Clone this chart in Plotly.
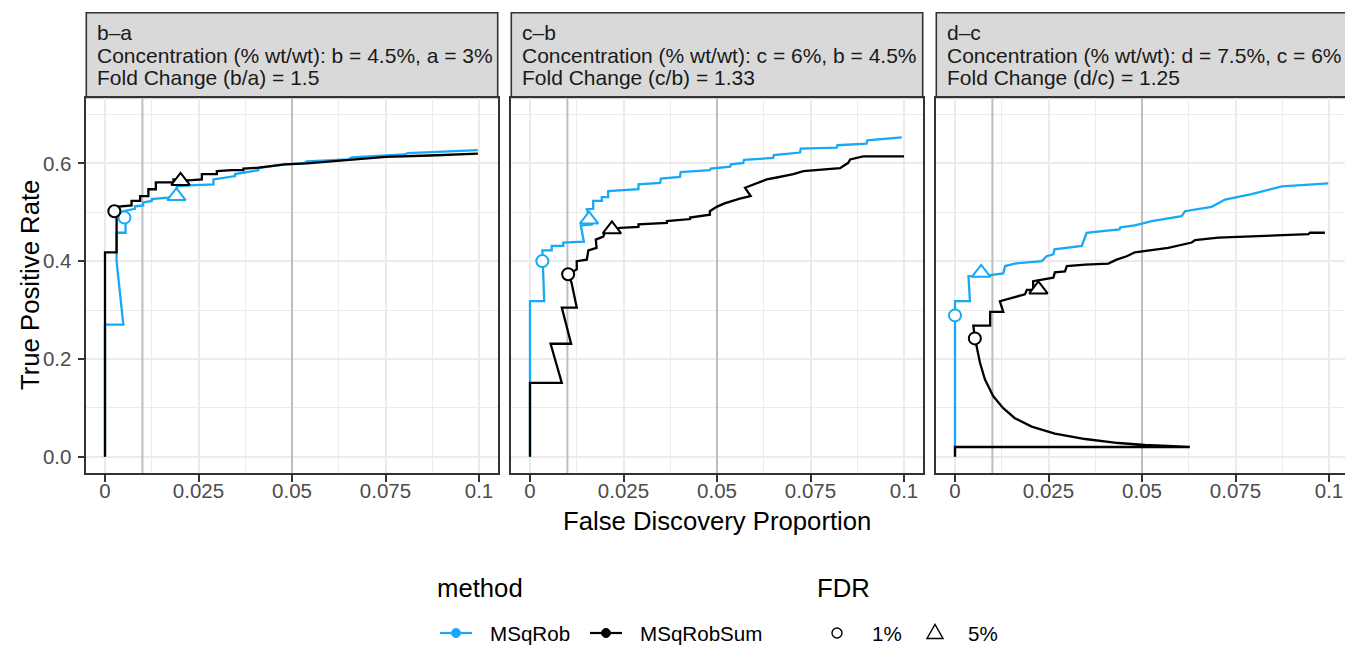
import plotly.graph_objects as go

# ---------------- data ----------------
PANEL_IDS = ["b–a", "c–b", "d–c"]
PANEL_CONC = [
    "Concentration (% wt/wt): b = 4.5%, a = 3%",
    "Concentration (% wt/wt): c = 6%, b = 4.5%",
    "Concentration (% wt/wt): d = 7.5%, c = 6%",
]
PANEL_FOLD = [
    "Fold Change (b/a) = 1.5",
    "Fold Change (c/b) = 1.33",
    "Fold Change (d/c) = 1.25",
]
METHODS = ["MSqRob", "MSqRobSum"]
FDR_LABELS = ["1%", "5%"]
FDR_LEVELS = [0.01, 0.05]

X_TICKS = [0, 0.025, 0.05, 0.075, 0.1]
X_TICK_TEXT = ["0", "0.025", "0.05", "0.075", "0.1"]
X_MINOR = [0.0125, 0.0375, 0.0625, 0.0875]
Y_TICKS = [0, 0.2, 0.4, 0.6]
Y_TICK_TEXT = ["0.0", "0.2", "0.4", "0.6"]
Y_MINOR = [0.1, 0.3, 0.5, 0.7]

# panel b-a
BA_MSQROB_FDP = [0, 0, 0.0049, 0.0031, 0.0031, 0.0055, 0.0055, 0.0049, 0.0080, 0.0080, 0.0102, 0.0102,
                 0.0125, 0.0125, 0.0169, 0.0192, 0.0192, 0.0223, 0.0290, 0.0290, 0.0348, 0.0348, 0.0410,
                 0.0410, 0.0481, 0.0530, 0.0540, 0.0602, 0.0650, 0.0660, 0.0751, 0.0800, 0.0810, 0.0869,
                 0.0940, 0.0997]
BA_MSQROB_TPR = [0, 0.270, 0.270, 0.400, 0.458, 0.458, 0.489, 0.502, 0.507, 0.512, 0.514, 0.520,
                 0.523, 0.527, 0.530, 0.533, 0.553, 0.555, 0.557, 0.567, 0.574, 0.578, 0.586,
                 0.590, 0.598, 0.600, 0.604, 0.606, 0.608, 0.612, 0.616, 0.618, 0.621, 0.623,
                 0.625, 0.627]
BA_SUM_FDP = [0, 0, 0.0031, 0.0031, 0.0071, 0.0071, 0.0094, 0.0094, 0.0116, 0.0116, 0.0136, 0.0136,
              0.0183, 0.0183, 0.0223, 0.0259, 0.0259, 0.0299, 0.0299, 0.0339, 0.0370, 0.0370, 0.0410,
              0.0481, 0.0540, 0.0602, 0.0680, 0.0751, 0.0869, 0.0997]
BA_SUM_TPR = [0, 0.418, 0.418, 0.511, 0.514, 0.523, 0.523, 0.533, 0.533, 0.547, 0.547, 0.561,
              0.561, 0.567, 0.565, 0.567, 0.578, 0.578, 0.584, 0.586, 0.586, 0.589, 0.591,
              0.598, 0.600, 0.604, 0.608, 0.613, 0.616, 0.620]
BA_MSQROB_MARK_FDP = [0.0052, 0.0191]
BA_MSQROB_MARK_TPR = [0.489, 0.533]
BA_SUM_MARK_FDP = [0.0025, 0.0202]
BA_SUM_MARK_TPR = [0.502, 0.564]

# panel c-b
CB_MSQROB_FDP = [0, 0, 0.0038, 0.0033, 0.0033, 0.0058, 0.0058, 0.0089, 0.0089, 0.0144, 0.0136, 0.0165,
                 0.0152, 0.0169, 0.0169, 0.0192, 0.0192, 0.0209, 0.0209, 0.0290, 0.0290, 0.0348, 0.0350,
                 0.0401, 0.0403, 0.0481, 0.0483, 0.0535, 0.0537, 0.0570, 0.0572, 0.0650, 0.0652, 0.0722,
                 0.0724, 0.0820, 0.0822, 0.0900, 0.0902, 0.0994]
CB_MSQROB_TPR = [0, 0.318, 0.318, 0.400, 0.422, 0.422, 0.431, 0.431, 0.438, 0.440, 0.473, 0.475,
                 0.506, 0.507, 0.523, 0.523, 0.531, 0.531, 0.543, 0.547, 0.557, 0.560, 0.569,
                 0.572, 0.582, 0.586, 0.589, 0.593, 0.598, 0.601, 0.607, 0.611, 0.617, 0.622,
                 0.630, 0.632, 0.637, 0.640, 0.647, 0.653]
CB_SUM_FDP = [0, 0, 0.0085, 0.0055, 0.0110, 0.0085, 0.0125, 0.0111, 0.0102, 0.0125, 0.0125, 0.0152,
              0.0156, 0.0178, 0.0176, 0.0196, 0.0201, 0.0241, 0.0290, 0.0290, 0.0366, 0.0366, 0.0428,
              0.0428, 0.0481, 0.0481, 0.0499, 0.0520, 0.0561, 0.0590, 0.0575, 0.0610, 0.0633, 0.0660,
              0.0704, 0.0731, 0.0829, 0.0851, 0.0856, 0.0891, 0.1000]
CB_SUM_TPR = [0, 0.151, 0.151, 0.231, 0.231, 0.305, 0.305, 0.356, 0.373, 0.383, 0.400, 0.403,
              0.422, 0.427, 0.444, 0.450, 0.461, 0.468, 0.470, 0.475, 0.478, 0.482, 0.486,
              0.489, 0.495, 0.502, 0.511, 0.518, 0.528, 0.533, 0.550, 0.561, 0.567, 0.571,
              0.578, 0.584, 0.590, 0.601, 0.608, 0.614, 0.614]
CB_MSQROB_MARK_FDP = [0.0033, 0.0158]
CB_MSQROB_MARK_TPR = [0.400, 0.485]
CB_SUM_MARK_FDP = [0.0102, 0.0219]
CB_SUM_MARK_TPR = [0.373, 0.465]

# panel d-c
DC_MSQROB_FDP = [0, 0, 0.0040, 0.0036, 0.0089, 0.0129, 0.0134, 0.0160, 0.0232, 0.0245, 0.0263, 0.0266,
                 0.0339, 0.0348, 0.0352, 0.0401, 0.0440, 0.0442, 0.0481, 0.0526, 0.0606, 0.0615, 0.0686,
                 0.0722, 0.0793, 0.0874, 0.0998]
DC_MSQROB_TPR = [0, 0.318, 0.318, 0.369, 0.371, 0.375, 0.390, 0.395, 0.400, 0.410, 0.414, 0.424,
                 0.431, 0.448, 0.458, 0.462, 0.465, 0.469, 0.473, 0.482, 0.492, 0.502, 0.511,
                 0.526, 0.537, 0.553, 0.559]
DC_SUM_FDP = [0, 0, 0.0628, 0.0508, 0.0437, 0.0348, 0.0267, 0.0205, 0.0160, 0.0129, 0.01024, 0.00802,
              0.00668, 0.0058, 0.00535, 0.0049, 0.0094, 0.0094, 0.0129, 0.0120, 0.0160, 0.0187, 0.0192,
              0.0209, 0.0209, 0.0263, 0.0267, 0.0294, 0.0299, 0.0348, 0.0410, 0.0432, 0.0459, 0.0481,
              0.0570, 0.0633, 0.0642, 0.0704, 0.0811, 0.0945, 0.0949, 0.0989]
DC_SUM_TPR = [0, 0.0199, 0.0199, 0.0240, 0.0280, 0.0362, 0.0471, 0.0616, 0.0788, 0.0993, 0.1235, 0.158,
              0.192, 0.226, 0.2417, 0.268, 0.268, 0.296, 0.296, 0.318, 0.327, 0.332, 0.341,
              0.341, 0.359, 0.366, 0.377, 0.379, 0.390, 0.393, 0.395, 0.403, 0.410, 0.418,
              0.427, 0.438, 0.443, 0.448, 0.451, 0.455, 0.458, 0.458]
DC_MSQROB_MARK_FDP = [0.0, 0.0070]
DC_MSQROB_MARK_TPR = [0.289, 0.376]
DC_SUM_MARK_FDP = [0.0053, 0.0223]
DC_SUM_MARK_TPR = [0.242, 0.342]

# ---------------- style / layout ----------------
W, H = 1345, 645
FONT = "Liberation Sans, Arial, Helvetica, sans-serif"
COLORS = {"MSqRob": "#16A9F5", "MSqRobSum": "#000000"}
SYMBOLS = ["circle", "triangle-up"]
SIZES = [12, 16]

PANEL_L = [86.3, 511.3, 936.3]
PANEL_R = [497.7, 922.7, 1345.0]
PX_PER_UNIT = 3740.0
PLOT_TOP, PLOT_BOT = 97.5, 473.0
STRIP_TOP = 12.7
Y_RANGE = [-0.0333, 0.7346]
STRIP_BOTTOMS = [46.0, 69.5, 91.5]   # text box bottoms in px


def fx(px):
    return px / W


def fy(py):
    return 1 - py / H


panel_series = [
    ((BA_MSQROB_FDP, BA_MSQROB_TPR), (BA_SUM_FDP, BA_SUM_TPR),
     (BA_MSQROB_MARK_FDP, BA_MSQROB_MARK_TPR), (BA_SUM_MARK_FDP, BA_SUM_MARK_TPR)),
    ((CB_MSQROB_FDP, CB_MSQROB_TPR), (CB_SUM_FDP, CB_SUM_TPR),
     (CB_MSQROB_MARK_FDP, CB_MSQROB_MARK_TPR), (CB_SUM_MARK_FDP, CB_SUM_MARK_TPR)),
    ((DC_MSQROB_FDP, DC_MSQROB_TPR), (DC_SUM_FDP, DC_SUM_TPR),
     (DC_MSQROB_MARK_FDP, DC_MSQROB_MARK_TPR), (DC_SUM_MARK_FDP, DC_SUM_MARK_TPR)),
]

fig = go.Figure()
shapes = []
annotations = []

for i in range(3):
    xa = "x" if i == 0 else f"x{i+1}"
    ya = "y" if i == 0 else f"y{i+1}"
    lines = panel_series[i][:2]
    marks = panel_series[i][2:]
    for lvl in FDR_LEVELS:
        fig.add_trace(go.Scatter(x=[lvl, lvl], y=[-1, 2], mode="lines",
                                 line=dict(color="#BEBEBE", width=2),
                                 xaxis=xa, yaxis=ya, showlegend=False, hoverinfo="skip"))
    for m, (fd, tp) in zip(METHODS, lines):
        fig.add_trace(go.Scatter(x=fd, y=tp, mode="lines", name=m,
                                 line=dict(color=COLORS[m], width=2.3),
                                 xaxis=xa, yaxis=ya, showlegend=False))
    for m, (fd, tp) in zip(METHODS, marks):
        fig.add_trace(go.Scatter(x=fd, y=tp, mode="markers", name=m,
                                 marker=dict(symbol=SYMBOLS, size=SIZES, color="white", opacity=1,
                                             line=dict(color=COLORS[m], width=2)),
                                 xaxis=xa, yaxis=ya, showlegend=False))

    x0 = -0.005
    x1 = x0 + (PANEL_R[i] - PANEL_L[i]) / PX_PER_UNIT
    common = dict(showline=True, linecolor="#333333", linewidth=1.6, mirror=True,
                  showgrid=True, gridcolor="#EBEBEB", gridwidth=2.2, zeroline=False,
                  tickfont=dict(family=FONT, size=20.5, color="#4D4D4D"),
                  fixedrange=True)
    xaxis = dict(domain=[fx(PANEL_L[i]), fx(PANEL_R[i])], range=[x0, x1], anchor=ya,
                 tickmode="array", tickvals=X_TICKS, ticktext=X_TICK_TEXT,
                 ticks="outside", ticklen=7, tickwidth=1.6, tickcolor="#333333",
                 ticklabelstandoff=-8,
                 minor=dict(tickmode="array", tickvals=X_MINOR, showgrid=True,
                            gridcolor="#EBEBEB", gridwidth=1.1, ticks=""),
                 **common)
    yaxis = dict(domain=[fy(PLOT_BOT), fy(PLOT_TOP)], range=Y_RANGE, anchor=xa,
                 tickmode="array", tickvals=Y_TICKS, ticktext=Y_TICK_TEXT,
                 minor=dict(tickmode="array", tickvals=Y_MINOR, showgrid=True,
                            gridcolor="#EBEBEB", gridwidth=1.1, ticks=""),
                 **common)
    if i == 0:
        yaxis.update(ticks="outside", ticklen=7, tickwidth=1.6, tickcolor="#333333",
                     ticklabelstandoff=2)
    else:
        yaxis.update(ticks="", showticklabels=False)
    fig.layout[("xaxis" if i == 0 else f"xaxis{i+1}")] = xaxis
    fig.layout[("yaxis" if i == 0 else f"yaxis{i+1}")] = yaxis

    # strip
    shapes.append(dict(type="rect", xref="paper", yref="paper",
                       x0=fx(PANEL_L[i]), x1=fx(PANEL_R[i] + (3 if i == 2 else 0)),
                       y0=fy(PLOT_TOP), y1=fy(STRIP_TOP),
                       fillcolor="#D9D9D9", line=dict(color="#333333", width=1.6), layer="below"))
    for txt, yb in zip([PANEL_IDS[i], PANEL_CONC[i], PANEL_FOLD[i]], STRIP_BOTTOMS):
        annotations.append(dict(text=txt, xref="paper", yref="paper",
                                x=fx(PANEL_L[i] + 9), y=fy(yb), xanchor="left", yanchor="bottom",
                                showarrow=False, font=dict(family=FONT, size=21, color="#1A1A1A")))

# axis titles
annotations.append(dict(text="True Positive Rate", xref="paper", yref="paper",
                        x=fx(30), y=fy(285), xanchor="center", yanchor="middle", textangle=-90,
                        showarrow=False, font=dict(family=FONT, size=25.7, color="#000000")))
annotations.append(dict(text="False Discovery Proportion", xref="paper", yref="paper",
                        x=fx(717), y=fy(521), xanchor="center", yanchor="middle",
                        showarrow=False, font=dict(family=FONT, size=25.7, color="#000000")))

# legend (drawn manually)
LEG_Y = 633
annotations.append(dict(text="method", xref="paper", yref="paper", x=fx(435), y=fy(588),
                        xanchor="left", yanchor="middle", showarrow=False,
                        font=dict(family=FONT, size=25.7, color="#000000")))
annotations.append(dict(text="FDR", xref="paper", yref="paper", x=fx(815), y=fy(588),
                        xanchor="left", yanchor="middle", showarrow=False,
                        font=dict(family=FONT, size=25.7, color="#000000")))
for m, kx, tx in zip(METHODS, [456, 606], [488, 638]):
    shapes.append(dict(type="line", xref="paper", yref="paper", x0=fx(kx - 16), x1=fx(kx + 16),
                       y0=fy(LEG_Y), y1=fy(LEG_Y), line=dict(color=COLORS[m], width=2.2)))
    shapes.append(dict(type="circle", xref="paper", yref="paper", xsizemode="pixel",
                       ysizemode="pixel", xanchor=fx(kx), yanchor=fy(LEG_Y),
                       x0=-4.5, x1=4.5, y0=-4.5, y1=4.5,
                       fillcolor=COLORS[m], line=dict(color=COLORS[m], width=1)))
    annotations.append(dict(text=m, xref="paper", yref="paper", x=fx(tx), y=fy(LEG_Y),
                            xanchor="left", yanchor="middle", showarrow=False,
                            font=dict(family=FONT, size=20.6, color="#000000")))
# FDR keys
shapes.append(dict(type="circle", xref="paper", yref="paper", xsizemode="pixel",
                   ysizemode="pixel", xanchor=fx(837), yanchor=fy(LEG_Y),
                   x0=-5, x1=5, y0=-5, y1=5, line=dict(color="#000000", width=1.4)))
shapes.append(dict(type="path", xref="paper", yref="paper", xsizemode="pixel",
                   ysizemode="pixel", xanchor=fx(935), yanchor=fy(LEG_Y),
                   path="M -8,-5.5 L 8,-5.5 L 0,8.5 Z", line=dict(color="#000000", width=1.4)))
for lab, tx in zip(FDR_LABELS, [870, 966]):
    annotations.append(dict(text=lab, xref="paper", yref="paper", x=fx(tx), y=fy(LEG_Y),
                            xanchor="left", yanchor="middle", showarrow=False,
                            font=dict(family=FONT, size=20.6, color="#000000")))

fig.update_layout(
    width=W, height=H,
    margin=dict(l=0, r=0, t=0, b=0, autoexpand=False),
    paper_bgcolor="white", plot_bgcolor="white",
    showlegend=False,
    font=dict(family=FONT),
    shapes=shapes, annotations=annotations,
)

fig.write_html("out.html")
